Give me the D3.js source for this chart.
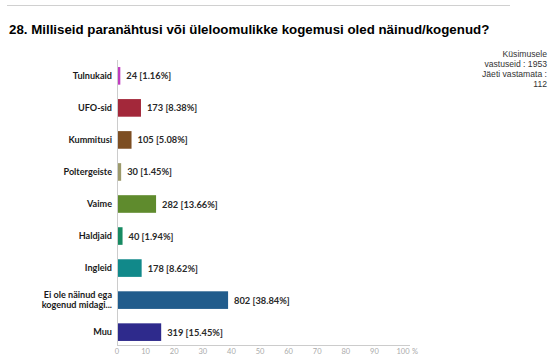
<!DOCTYPE html>
<html><head><meta charset="utf-8">
<script src="https://cdn.jsdelivr.net/npm/d3@7"></script>
<style>body{margin:0;background:#fff}svg{display:block}</style>
</head><body>
<script>
const categories = ["Tulnukaid","UFO-sid","Kummitusi","Poltergeiste","Vaime","Haldjaid","Ingleid","Ei ole näinud ega|kogenud midagi...","Muu"];
const counts = [24,173,105,30,282,40,178,802,319];
const percents = [1.16,8.38,5.08,1.45,13.66,1.94,8.62,38.84,15.45];
const colors = ["#c03cc0","#a3283a","#7d4e22","#9c9a6c","#5f8b2d","#178a62","#11898a","#215c8c","#2e2a8c"];
const tickValues = [0,10,20,30,40,50,60,70,80,90,100];
const title = "28. Milliseid paranähtusi või üleloomulikke kogemusi oled näinud/kogenud?";
const infoLines = ["Küsimusele","vastuseid : 1953","Jäeti vastamata :","112"];

const W=551,H=360;
const svg=d3.select("body").append("svg").attr("width",W).attr("height",H);
svg.append("line").attr("x1",7).attr("x2",510).attr("y1",5.5).attr("y2",5.5).attr("stroke","#d0d0d0");
svg.append("text").attr("x",9).attr("y",34).text(title)
  .attr("font-family","Liberation Sans, Arial").attr("font-weight","bold").attr("font-size",13.3).attr("fill","#000");
svg.append("g").selectAll("text").data(infoLines).join("text")
  .attr("x",547).attr("y",(d,i)=>57+i*10).attr("text-anchor","end")
  .attr("font-family","Liberation Sans, Arial").attr("font-size",8.6).attr("fill","#333").text(d=>d);

const x=d3.scaleLinear().domain([0,100]).range([117,403]);
const y=d3.scaleBand().domain(categories).range([60,348]).paddingInner(0.45).paddingOuter(0.22);
const font="Lato, sans-serif";

svg.append("g").selectAll("rect").data(categories).join("rect")
  .attr("x",x(0)).attr("y",d=>y(d)).attr("height",y.bandwidth())
  .attr("width",(d,i)=>Math.max(2,x(percents[i])-x(0))).attr("fill",(d,i)=>colors[i]);

// category labels
const lab=svg.append("g").selectAll("text").data(categories).join("text")
  .attr("text-anchor","end").attr("font-family",font).attr("font-weight","bold")
  .attr("font-size",9.1).attr("fill","#1a1a1a")
  .attr("x",112);
lab.each(function(d){
  const parts=d.split("|");
  const cy=y(d)+y.bandwidth()/2;
  const t=d3.select(this);
  parts.forEach((p,k)=>{
    t.append("tspan").attr("x",112).attr("y",cy+3.2+(k-(parts.length-1)/2)*10).text(p);
  });
});

// value labels
svg.append("g").selectAll("text").data(categories).join("text")
  .attr("x",(d,i)=>Math.max(x(0)+2,x(percents[i]))+6).attr("y",d=>y(d)+y.bandwidth()/2+3.5)
  .attr("font-family",font).attr("font-weight","bold").attr("font-size",9.3).attr("fill","#2a2a2a")
  .text((d,i)=>`${counts[i]} [${percents[i].toFixed(2)}%]`);

// axes
svg.append("line").attr("x1",117.5).attr("x2",117.5).attr("y1",60).attr("y2",345).attr("stroke","#ccc");
svg.append("line").attr("x1",117).attr("x2",410).attr("y1",345.5).attr("y2",345.5).attr("stroke","#ccc");
svg.append("g").selectAll("text").data(tickValues).join("text")
  .attr("x",d=>x(d)).attr("y",354).attr("text-anchor","middle")
  .attr("font-family",font).attr("font-size",7.5).attr("fill","#aaa").text(d=>d);
svg.append("text").attr("x",x(100)+9).attr("y",354).attr("font-family",font).attr("font-size",7.5).attr("fill","#aaa").text("%");
</script>
</body></html>
